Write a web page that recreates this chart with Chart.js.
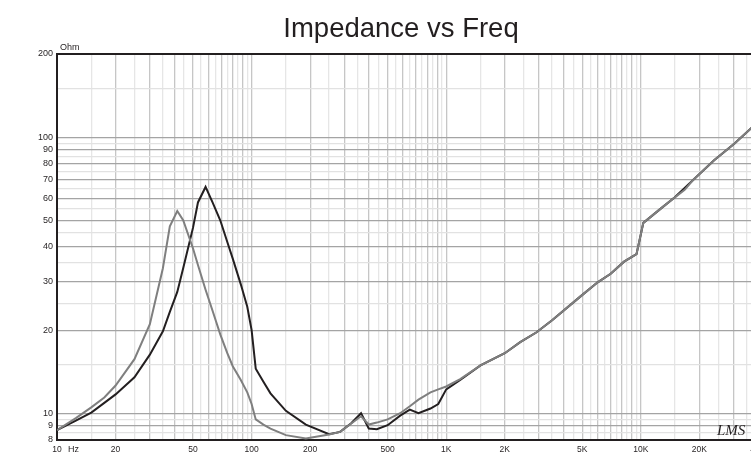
<!DOCTYPE html>
<html>
<head>
<meta charset="utf-8">
<script src="https://cdn.jsdelivr.net/npm/chart.js@4.4.1/dist/chart.umd.min.js"></script>
<style>
  body { margin: 0; overflow: hidden; background: #fff; }
  #wrap { width: 810px; height: 452px; }
</style>
</head>
<body>
<div id="wrap"><canvas id="grafica" width="810" height="452"></canvas></div>
<script>
// frequencias (Hz) e impedancias (Ohm)
var freqHz = [10, 12.5, 15, 17.5, 20, 25, 30, 35, 38, 41.5, 44.5, 50, 53, 58, 63, 69, 75, 80, 88, 95,
  100, 105, 115, 125, 150, 190, 250, 285, 325, 365, 400, 440, 500, 580, 650, 720, 830, 910, 1000, 1180,
  1500, 2000, 2400, 2900, 3500, 4900, 6000, 7000, 8200, 9500, 10300, 12700, 14900, 16800, 18500, 23800, 30300, 40000];
var curvaPreta = [8.68, 9.4, 10.05, 10.9, 11.7, 13.5, 16.3, 19.8, 23.3, 27.5, 33.5, 47, 58, 66, 58, 50, 41.7, 36.3, 29.3, 24.3,
  20, 14.5, 13.0, 11.8, 10.2, 9.1, 8.4, 8.56, 9.2, 10.0, 8.8, 8.75, 9.05, 9.8, 10.3, 10.0, 10.4, 10.8, 12.2, 13.2,
  14.9, 16.5, 18.1, 19.6, 21.7, 26.5, 29.8, 32.0, 35.4, 37.7, 48.9, 55.2, 60.4, 65.5, 69.8, 82.4, 94.9, 113.5];
var curvaCinza = [8.68, 9.6, 10.5, 11.4, 12.6, 15.7, 21, 33.5, 47.5, 54, 50, 39.5, 34.4, 28, 23.5, 19.3, 16.5, 14.8, 13.2, 11.9,
  10.8, 9.5, 9.1, 8.8, 8.33, 8.1, 8.38, 8.56, 9.18, 9.75, 9.1, 9.25, 9.5, 10.0, 10.6, 11.2, 11.9, 12.2, 12.5, 13.3,
  14.9, 16.5, 18.1, 19.6, 21.7, 26.5, 29.8, 32.0, 35.4, 37.7, 48.9, 55.2, 60.4, 64.4, 69.8, 82.4, 94.9, 113.5];

var yMaiores = [8, 9, 10, 20, 30, 40, 50, 60, 70, 80, 90, 100, 200];
var yMenores = [8.5, 9.5, 15, 25, 35, 45, 55, 65, 75, 85, 95, 150];
var xRotulos = [10, 20, 50, 100, 200, 500, 1000, 2000, 5000, 10000, 20000, 40000];

var xTicks = [];
[10, 100, 1000, 10000].forEach(function (d) {
    for (var m = 1; m <= 9.5; m += 0.5) {
        var v = Math.round(m * d);
        if (v <= 40000) xTicks.push(v);
    }
});
xTicks.push(40000);
var yTicks = yMaiores.concat(yMenores).sort(function (a, b) { return a - b; });

function ehMaior(v) {
    var m = v / Math.pow(10, Math.floor(Math.log10(v) + 1e-9));
    return Math.abs(m - Math.round(m)) < 1e-6;
}
function pontos(valores) {
    return freqHz.map(function (f, i) { return { x: f, y: valores[i] }; });
}

var textos = {
    id: 'textos',
    afterDraw: function (chart) {
        var c = chart.ctx;
        c.save();
        c.fillStyle = '#231f20';
        c.font = '9px "Liberation Sans", Arial, sans-serif';
        c.textBaseline = 'alphabetic';
        c.fillText('Ohm', 60, 50);
        c.textBaseline = 'top';
        c.fillText('Hz', 68, 445);
        c.font = 'italic 15px "Liberation Serif", serif';
        c.textBaseline = 'alphabetic';
        c.fillText('LMS', 717, 435);
        c.restore();
    }
};

var ctx = document.getElementById('grafica').getContext('2d');
var grafico = new Chart(ctx, {
    type: 'line',
    data: {
        datasets: [{
            label: 'preta',
            data: pontos(curvaPreta),
            borderColor: '#231f20',
            borderWidth: 2,
            pointRadius: 0,
            tension: 0,
            order: 1
        }, {
            label: 'cinza',
            data: pontos(curvaCinza),
            borderColor: '#7f7f7f',
            borderWidth: 2,
            pointRadius: 0,
            tension: 0,
            order: 0
        }]
    },
    options: {
        responsive: false,
        animation: false,
        layout: { padding: { left: 0, right: 8, top: 0, bottom: 0 } },
        plugins: {
            legend: { display: false },
            tooltip: { enabled: false },
            title: {
                display: true,
                text: 'Impedance vs Freq',
                color: '#231f20',
                font: { family: '"Liberation Sans", Arial, sans-serif', size: 27.5, weight: 'normal' },
                padding: { top: 13, bottom: 8 }
            }
        },
        scales: {
            x: {
                type: 'logarithmic',
                min: 10,
                max: 40000,
                afterBuildTicks: function (scale) {
                    scale.ticks = xTicks.map(function (v) { return { value: v }; });
                },
                afterFit: function (scale) { scale.height = 12; },
                ticks: {
                    autoSkip: false,
                    maxRotation: 0,
                    padding: 5,
                    color: '#231f20',
                    font: { family: '"Liberation Sans", Arial, sans-serif', size: 8.5 },
                    callback: function (v) {
                        if (xRotulos.indexOf(v) < 0) return '';
                        return v >= 1000 ? (v / 1000) + 'K' : String(v);
                    }
                },
                grid: {
                    drawTicks: false,
                    color: function (c) { return ehMaior(c.tick.value) ? '#c6c6c6' : '#e6e6e6'; },
                    lineWidth: 1.3
                },
                border: { color: '#231f20', width: 2 }
            },
            y: {
                type: 'logarithmic',
                min: 8,
                max: 200,
                afterBuildTicks: function (scale) {
                    scale.ticks = yTicks.map(function (v) { return { value: v }; });
                },
                afterFit: function (scale) { scale.width = 57; },
                ticks: {
                    autoSkip: false,
                    padding: 4,
                    color: '#231f20',
                    font: { family: '"Liberation Sans", Arial, sans-serif', size: 9 },
                    callback: function (v) { return yMaiores.indexOf(v) >= 0 ? String(v) : ''; }
                },
                grid: {
                    drawTicks: false,
                    color: function (c) {
                        if (c.tick.value === 200) return '#231f20';
                        return ehMaior(c.tick.value) ? '#a4a4a4' : '#e2e2e2';
                    },
                    lineWidth: function (c) { return c.tick.value === 200 ? 2 : 1.2; }
                },
                border: { color: '#231f20', width: 2 }
            },
            direita: {
                type: 'linear',
                position: 'right',
                afterFit: function (scale) { scale.width = 44; },
                grid: { display: false },
                ticks: { display: false },
                border: { display: false }
            }
        }
    },
    plugins: [textos]
});
</script>
</body>
</html>
